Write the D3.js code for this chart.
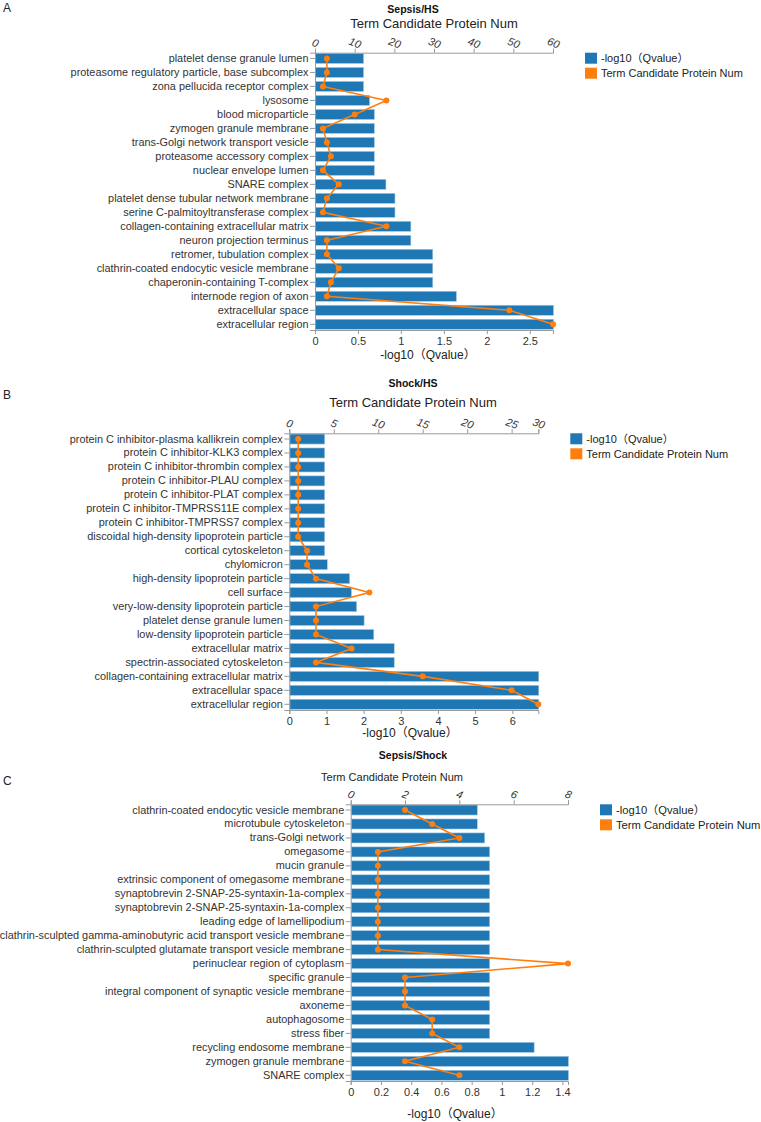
<!DOCTYPE html>
<html>
<head>
<meta charset="utf-8">
<script src="https://cdn.jsdelivr.net/npm/d3@7"></script>
<style>
  body { margin: 0; background: #fff; }
  svg { display: block; font-family: "Liberation Sans", Arial, "Noto Sans CJK SC", sans-serif; }
  .domain, .tick line { stroke: #9a9a9a; }
  .tick text { fill: #333; }
</style>
</head>
<body>
<div id="chart"></div>
<script>
// ---- data ----
const termsA = ["platelet dense granule lumen", "proteasome regulatory particle, base subcomplex", "zona pellucida receptor complex",
  "lysosome", "blood microparticle", "zymogen granule membrane", "trans-Golgi network transport vesicle",
  "proteasome accessory complex", "nuclear envelope lumen", "SNARE complex", "platelet dense tubular network membrane",
  "serine C-palmitoyltransferase complex", "collagen-containing extracellular matrix", "neuron projection terminus",
  "retromer, tubulation complex", "clathrin-coated endocytic vesicle membrane", "chaperonin-containing  T-complex",
  "internode region of axon", "extracellular space", "extracellular region"];
const qvalA = [0.56, 0.56, 0.56, 0.63, 0.685, 0.685, 0.685, 0.685, 0.685, 0.82, 0.925, 0.925, 1.11, 1.11, 1.365, 1.365, 1.365, 1.64, 2.77, 2.77];
const countA = [3, 3, 2, 18, 10, 2, 3, 4, 2, 6, 3, 2, 18, 3, 3, 6, 4, 3, 49, 60];
const countTicksA = [0, 10, 20, 30, 40, 50, 60];

const termsB = ["protein C inhibitor-plasma kallikrein complex", "protein C inhibitor-KLK3 complex", "protein C inhibitor-thrombin complex",
  "protein C inhibitor-PLAU complex", "protein C inhibitor-PLAT complex", "protein C inhibitor-TMPRSS11E complex",
  "protein C inhibitor-TMPRSS7 complex", "discoidal high-density lipoprotein particle", "cortical cytoskeleton", "chylomicron",
  "high-density lipoprotein particle", "cell surface", "very-low-density lipoprotein particle", "platelet dense granule lumen",
  "low-density lipoprotein particle", "extracellular matrix", "spectrin-associated cytoskeleton",
  "collagen-containing extracellular matrix", "extracellular space", "extracellular region"];
const qvalB = [0.94, 0.94, 0.94, 0.94, 0.94, 0.94, 0.94, 0.94, 0.94, 1.01, 1.61, 1.66, 1.8, 2.0, 2.26, 2.81, 2.81, 6.7, 6.7, 6.7];
const countB = [1, 1, 1, 1, 1, 1, 1, 1, 2, 2, 3, 9, 3, 3, 3, 7, 3, 15, 25, 28];
const countTicksB = [0, 5, 10, 15, 20, 25, 30];

const termsC = ["clathrin-coated endocytic vesicle membrane", "microtubule cytoskeleton", "trans-Golgi network", "omegasome",
  "mucin granule", "extrinsic component of omegasome membrane", "synaptobrevin 2-SNAP-25-syntaxin-1a-complex",
  "synaptobrevin 2-SNAP-25-syntaxin-1a-complex ", "leading edge of lamellipodium",
  "clathrin-sculpted gamma-aminobutyric acid transport vesicle membrane", "clathrin-sculpted glutamate transport vesicle membrane",
  "perinuclear region of cytoplasm", "specific granule", "integral component of synaptic vesicle membrane", "axoneme",
  "autophagosome", "stress fiber", "recycling endosome membrane", "zymogen granule membrane", "SNARE complex"];
const qvalC = [0.834, 0.834, 0.883, 0.916, 0.916, 0.916, 0.916, 0.916, 0.916, 0.916, 0.916, 0.916, 0.916, 0.916, 0.916, 0.916, 0.916, 1.21, 1.437, 1.437];
const countC = [2, 3, 4, 1, 1, 1, 1, 1, 1, 1, 1, 8, 2, 2, 2, 3, 3, 4, 2, 4];
const countTicksC = [0, 2, 4, 6, 8];

const legendLabels = ["-log10（Qvalue）", "Term Candidate Protein Num"];
const colors = ["#1f77b4", "#ff7f0e"];

// ---- layout ----
const panels = [
  { letter: "A", title: "Sepsis/HS", terms: termsA, qval: qvalA, count: countA, countTicks: countTicksA,
    letterY: 12, titleY: 13, subX: 434, subY: 28, subSize: 13, left: 315, right: 553, top: 52.7, bottom: 330,
    xTitleX: 428, xTitleY: 359, legendSize: 11 },
  { letter: "B", title: "Shock/HS", terms: termsB, qval: qvalB, count: countB, countTicks: countTicksB,
    letterY: 399, titleY: 387, subX: 413, subY: 407, subSize: 13, left: 289.3, right: 538.3, top: 433.3, bottom: 710,
    xTitleX: 410, xTitleY: 737, legendSize: 11 },
  { letter: "C", title: "Sepsis/Shock", terms: termsC, qval: qvalC, count: countC, countTicks: countTicksC,
    letterY: 785, titleY: 759, subX: 392, subY: 781, subSize: 11, left: 350.7, right: 568, top: 804.3, bottom: 1081,
    xTitleX: 455, xTitleY: 1118, legendSize: 11.2 }
];

const svg = d3.select("#chart").append("svg")
  .attr("width", 761)
  .attr("height", 1122);

panels.forEach(drawPanel);

function drawPanel(p) {
  const g = svg.append("g");

  // panel letter and titles
  g.append("text").attr("x", 3).attr("y", p.letterY).style("font-size", "12px").attr("fill", "#222").text(p.letter);
  g.append("text").attr("x", 413).attr("y", p.titleY).attr("text-anchor", "middle")
    .style("font-size", "10.5px").style("font-weight", "bold").attr("fill", "#111").text(p.title);
  g.append("text").attr("x", p.subX).attr("y", p.subY).attr("text-anchor", "middle")
    .style("font-size", p.subSize + "px").attr("fill", "#222").text(legendLabels[1]);

  // scales
  const y = d3.scaleBand()
    .domain(p.terms)
    .range([p.top, p.bottom])
    .paddingInner(0.28)
    .paddingOuter(0.05);
  const xq = d3.scaleLinear()
    .domain([0, d3.max(p.qval)])
    .range([p.left, p.right]);
  const xc = d3.scaleLinear()
    .domain([0, d3.max(p.count)])
    .range([p.left, p.right])
    .clamp(true);

  // bars
  g.append("g").selectAll("rect")
    .data(p.terms)
    .join("rect")
      .attr("x", xq(0) + 0.5)
      .attr("y", d => y(d))
      .attr("width", (d, i) => xq(p.qval[i]) - xq(0))
      .attr("height", y.bandwidth())
      .attr("fill", colors[0])
      .attr("stroke", "#a9cbe6")
      .attr("stroke-width", 0.6);

  // axes
  g.append("g")
    .attr("transform", `translate(0,${p.bottom})`)
    .call(d3.axisBottom(xq).ticks(6).tickSize(4).tickPadding(3).tickFormat(d3.format("~g")))
    .call(a => a.selectAll("text").style("font-size", "11px"));

  g.append("g")
    .attr("transform", `translate(0,${p.top})`)
    .call(d3.axisTop(xc).tickValues(p.countTicks).tickSize(4).tickPadding(2))
    .call(a => a.selectAll("text")
      .style("font-size", "11px")
      .style("font-style", "italic")
      .attr("transform", "rotate(20,0,-10)"));

  g.append("g")
    .attr("transform", `translate(${p.left},0)`)
    .call(d3.axisLeft(y).tickSize(5).tickPadding(1.5).tickFormat(d => d.trim()))
    .call(a => a.selectAll("text").style("font-size", "10.9px"));

  // line of candidate protein counts
  const pts = p.terms.map((t, i) => [xc(p.count[i]), y(t) + y.bandwidth() / 2]);
  g.append("path")
    .datum(pts)
    .attr("fill", "none")
    .attr("stroke", colors[1])
    .attr("stroke-width", 1.6)
    .attr("d", d3.line());
  g.append("g").selectAll("circle")
    .data(pts)
    .join("circle")
      .attr("cx", d => d[0])
      .attr("cy", d => d[1])
      .attr("r", 3)
      .attr("fill", colors[1]);

  // x axis title
  g.append("text").attr("x", p.xTitleX).attr("y", p.xTitleY).attr("text-anchor", "middle")
    .style("font-size", "12px").attr("fill", "#222").text(legendLabels[0]);

  // legend
  const lg = g.append("g").attr("transform", `translate(${p.right + 32},${p.top})`);
  legendLabels.forEach((lab, i) => {
    lg.append("rect").attr("x", 0).attr("y", i * 15).attr("width", 12).attr("height", 11).attr("fill", colors[i]);
    lg.append("text").attr("x", 16).attr("y", i * 15 + 5.5).attr("dy", "0.35em")
      .style("font-size", p.legendSize + "px").attr("fill", "#222").text(lab);
  });
}
</script>
</body>
</html>
